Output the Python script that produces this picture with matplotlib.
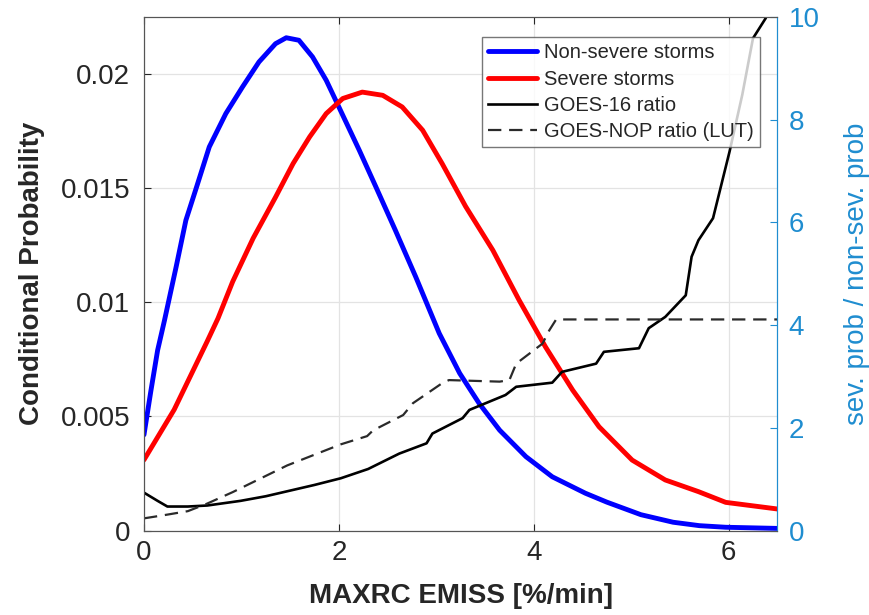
import numpy as np
import matplotlib
matplotlib.use("Agg")
import matplotlib.pyplot as plt

plt.rcParams['font.family'] = ['Liberation Sans', 'DejaVu Sans']

# Conditional probability curves (left axis)
x_nonsev = [0.0, 0.07, 0.14, 0.21, 0.33, 0.43, 0.54, 0.67, 0.84, 1.01, 1.18, 1.35, 1.46, 1.59,
            1.73, 1.87, 2.00, 2.21, 2.38, 2.58, 2.79, 3.03, 3.24, 3.44, 3.65, 3.92, 4.19, 4.53,
            4.75, 5.10, 5.43, 5.70, 5.97, 6.50]
p_nonsev = [0.0042, 0.0061, 0.0079, 0.0092, 0.01155, 0.01359, 0.01505, 0.0168, 0.01826,
            0.01942, 0.02052, 0.02132, 0.02158, 0.02147, 0.02074, 0.01972, 0.01855, 0.01665,
            0.01505, 0.01315, 0.0111, 0.00864, 0.00689, 0.00557, 0.0044, 0.00324, 0.00236,
            0.00164, 0.00125, 0.0007, 0.00037, 0.00022, 0.00015, 0.0001]

x_sev = [0.0, 0.31, 0.65, 0.76, 0.91, 1.12, 1.35, 1.53, 1.70, 1.87, 2.04, 2.24, 2.45, 2.65,
         2.86, 3.06, 3.30, 3.58, 3.85, 4.12, 4.40, 4.67, 5.01, 5.35, 5.69, 5.97, 6.50]
p_sev = [0.0031, 0.0053, 0.0083, 0.0093, 0.0109, 0.0128, 0.0146, 0.01607, 0.01724,
         0.01826, 0.01892, 0.0192, 0.01906, 0.01855, 0.01753, 0.01607, 0.0142, 0.01228,
         0.01009, 0.00805, 0.00615, 0.00455, 0.00309, 0.00222, 0.00171, 0.00124, 0.00095]

# Ratio curves (right axis)
x_g16 = [0.0, 0.07, 0.14, 0.24, 0.45, 0.65, 0.99, 1.25, 1.50, 1.75, 2.02, 2.30, 2.62, 2.90,
         2.96, 3.27, 3.34, 3.71, 3.82, 4.19, 4.29, 4.64, 4.72, 5.08, 5.18, 5.35, 5.56, 5.62,
         5.69, 5.84, 6.01, 6.14, 6.25, 6.38, 6.50]
r_g16 = [0.74, 0.66, 0.58, 0.47, 0.47, 0.49, 0.58, 0.67, 0.78, 0.89, 1.02, 1.20, 1.50, 1.70,
         1.89, 2.19, 2.35, 2.64, 2.80, 2.88, 3.09, 3.25, 3.48, 3.55, 3.94, 4.16, 4.58, 5.33,
         5.65, 6.08, 7.38, 8.48, 9.58, 9.97, 10.6]

x_lut = [0.0, 0.20, 0.45, 0.64, 0.91, 1.47, 2.02, 2.29, 2.35, 2.66, 2.76, 3.06, 3.13, 3.65,
         3.75, 3.82, 4.09, 4.16, 4.23, 6.50]
r_lut = [0.24, 0.30, 0.38, 0.52, 0.75, 1.27, 1.68, 1.84, 1.95, 2.25, 2.48, 2.87, 2.93, 2.90,
         2.93, 3.25, 3.64, 3.90, 4.11, 4.11]

txt = '#262626'
rcol = '#1f8dd0'

fig = plt.figure(figsize=(8.7, 6.15), dpi=100)
ax = fig.add_axes([0.1655, 0.1371, 0.728, 0.8357])
ax2 = ax.twinx()

l1, = ax.plot(x_nonsev, p_nonsev, color='blue', lw=3.5, solid_joinstyle='round',
              solid_capstyle='round', label='Non-severe storms', zorder=3)
l2, = ax.plot(x_sev, p_sev, color='red', lw=3.5, solid_joinstyle='round',
              solid_capstyle='round', label='Severe storms', zorder=3)
l3, = ax2.plot(x_g16, r_g16, color='black', lw=1.9, solid_joinstyle='round',
               label='GOES-16 ratio')
l4, = ax2.plot(x_lut, r_lut, color='#2a2a2a', lw=1.6, ls=(0, (6, 3.5)),
               label='GOES-NOP ratio (LUT)')

ax.set_xlim(0, 6.5)
ax.set_ylim(0, 0.0225)
ax2.set_ylim(0, 10)

ax.set_xticks([0, 2, 4, 6])
ax.set_yticks([0, 0.005, 0.01, 0.015, 0.02])
ax.set_yticklabels(['0', '0.005', '0.01', '0.015', '0.02'])
ax2.set_yticks([0, 2, 4, 6, 8, 10])

ax.grid(True, color='#e3e3e3', lw=0.9)
ax.set_axisbelow(True)

ax.tick_params(axis='x', direction='in', length=5, labelsize=20, colors=txt, pad=7,
               top=True)
ax.tick_params(axis='y', direction='in', length=5, labelsize=20, colors=txt, pad=10)
ax2.tick_params(axis='y', direction='in', length=5, labelsize=20, colors=rcol, pad=8)

for s in ['left', 'bottom', 'top']:
    ax.spines[s].set_color('#555555')
    ax2.spines[s].set_color('#555555')
ax2.spines['right'].set_color(rcol)
ax.spines['right'].set_color(rcol)

ax.set_xlabel('MAXRC EMISS [%/min]', fontsize=20, fontweight='bold', color=txt, labelpad=12)
ax.set_ylabel('Conditional Probability', fontsize=20, fontweight='bold', color=txt, labelpad=11)
ax2.set_ylabel('sev. prob / non-sev. prob', fontsize=20, color=rcol, labelpad=18)

leg = ax2.legend(handles=[l1, l2, l3, l4], loc='upper right', fontsize=14.5,
                 bbox_to_anchor=(0.972, 0.96), frameon=True, fancybox=False,
                 handlelength=2.4, handletextpad=0.35, labelspacing=0.36,
                 borderpad=0.3, borderaxespad=0)
leg.get_frame().set_edgecolor('#555555')
leg.get_frame().set_linewidth(1.0)
leg.set_zorder(10)
for t in leg.get_texts():
    t.set_color(txt)

fig.savefig('out.png', dpi=100)
